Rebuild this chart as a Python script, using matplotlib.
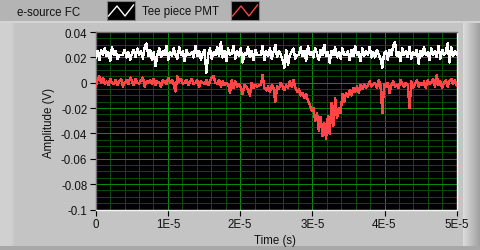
import numpy as np
import matplotlib
matplotlib.use("Agg")
import matplotlib.pyplot as plt
from matplotlib.ticker import MultipleLocator, AutoMinorLocator, FuncFormatter

plt.rcParams["font.family"] = ["Liberation Sans", "DejaVu Sans"]

# sample spacing of the scope trace (s)
DT = 2.5e-7

# e-source FC trace, mV
fc_mv = [
    20, 25, 18, 26, 22, 27, 21, 24, 17, 28,
    22, 25, 19, 22, 22, 22, 26, 20, 24, 18,
    23, 26, 20, 27, 22, 25, 19, 28, 31, 21,
    26, 18, 24, 13, 22, 27, 20, 25, 22, 29,
    18, 24, 21, 27, 22, 19, 28, 22, 25, 17,
    26, 22, 22, 24, 20, 29, 21, 25, 18, 23,
    26, 8, 22, 27, 19, 24, 22, 28, 21, 32,
    20, 25, 17, 27, 22, 23, 29, 19, 25, 21,
    27, 16, 23, 22, 28, 20, 25, 18, 26, 22,
    22, 22, 29, 18, 25, 21, 27, 19, 24, 30,
    20, 25, 22, 18, 12, 26, 14, 22, 24, 27,
    19, 22, 22, 28, 21, 25, 17, 29, 22, 24,
    20, 27, 23, 18, 26, 22, 30, 21, 24, 16,
    25, 22, 28, 20, 24, 19, 27, 22, 22, 25,
    18, 26, 21, 29, 22, 24, 17, 27, 21, 25,
    22, 28, 20, 24, 20, 26, 22, 19, 12, 23,
    25, 18, 26, 22, 29, 32, 21, 24, 17, 27,
    22, 25, 20, 28, 19, 24, 22, 26, 15, 25,
    21, 28, 22, 24, 18, 27, 22, 25, 20, 29,
    19, 26, 22, 24, 31, 16, 28, 21, 25, 22,
]

# Tee piece PMT trace, mV
pmt_mv = [
    -3, 2, 5, 0, 4, -1, 1, -2, 3, 0,
    -1, 2, -2, 1, 3, -3, 0, 2, -1, 4,
    1, -2, 3, 0, -1, 2, 4, -3, 1, 0,
    2, -1, 3, -2, 1, 0, -3, 2, 1, -1,
    4, 0, 2, -1, -7, 5, 1, 3, -1, 0,
    2, -2, 1, 3, -1, 0, 2, -3, 1, 0,
    -1, 2, -2, 1, 4, 5, 0, -1, 2, -3,
    1, -2, 0, -1, -8, 2, -4, 1, -3, -1,
    -4, -9, -2, -3, -6, -10, 0, -4, -2, -3,
    -2, -2, 6, -4, -6, -3, -7, -2, -4, -15,
    -3, -5, 0, -3, -6, -2, -4, 1, -3, 2,
    -4, -7, -5, -10, -8, -12, -9, -14, -17, -22,
    -20, -30, -24, -38, -27, -42, -32, -44, -26, -40,
    -16, -34, -12, -28, -20, -24, -9, -15, -8, -11,
    -6, -10, -4, -7, -3, -8, -2, -5, -1, -4,
    -2, 1, -3, -1, 0, -4, 2, -2, -24, -1,
    -3, 0, -8, -2, 1, -3, -2, -4, 2, -1,
    -3, 0, -2, -20, 1, -4, -1, 2, -3, 0,
    -2, 1, -4, 2, -1, 0, 3, -3, 6, -2,
    1, -4, 0, 2, -3, 1, 3, -1, 2, -2,
]

series_names = ["e-source FC", "Tee piece PMT"]
series_colors = ["#ffffff", "#ff4545"]

W, H = 481, 251
fig = plt.figure(figsize=(W / 100, H / 100), dpi=100, facecolor="#c4c4c4")

# panel decoration in pixel coordinates
bg = fig.add_axes([0, 0, 1, 1], zorder=-5)
bg.set_xlim(0, W)
bg.set_ylim(H, 0)
bg.axis("off")
bg.add_patch(plt.Rectangle((0, 0), W, 22, color="#b4b4b4", lw=0))
bg.add_patch(plt.Rectangle((0, 22), W, 2, color="#d4d4d4", lw=0))
bg.add_patch(plt.Rectangle((0, 24), 12, H - 24, color="#d0d0d0", lw=0))
bg.add_patch(plt.Rectangle((12, 24), 2, H - 24, color="#cacaca", lw=0))
bg.add_patch(plt.Rectangle((0, H - 4), W, 4, color="#a8a8a8", lw=0))
grad = np.linspace(0.86, 0.62, 18)[None, :]
bg.imshow(grad, extent=(463, 481, H - 4, 24), cmap="gray", vmin=0, vmax=1, aspect="auto")
bg.imshow(np.linspace(0.80, 0.60, 14)[None, :], extent=(259, 273, 21, 0),
          cmap="gray", vmin=0, vmax=1, aspect="auto")

# legend entries
leg_text_x = [17, 142]
leg_box_x = [107, 231]
zig_x = np.array([1.5, 10, 18, 26.5])
zig_y = np.array([17, 7, 17, 6])
for name, color, tx, bx in zip(series_names, series_colors, leg_text_x, leg_box_x):
    bg.text(tx, 12.5, name, fontsize=8.3, va="center", ha="left", color="#111111")
    bg.add_patch(plt.Rectangle((bx, 2), 28, 19, facecolor="black", edgecolor="#808080", lw=0.8))
    bg.plot(bx + zig_x, zig_y, color=color, lw=1.0)
bg.set_xlim(0, W)
bg.set_ylim(H, 0)

# plot area
left, right, top, bottom = 95.7, 456.7, 33.0, 210.5
ax = fig.add_axes([left / W, (H - bottom) / H, (right - left) / W, (bottom - top) / H])
ax.set_facecolor("black")

t_fc = np.arange(len(fc_mv)) * DT
t_pmt = np.arange(len(pmt_mv)) * DT
t_fc = t_fc * (5e-5 / t_fc[-1])
t_pmt = t_pmt * (5e-5 / t_pmt[-1])
ax.plot(t_fc, np.array(fc_mv) / 1000.0, color=series_colors[0], lw=1.0, antialiased=False, zorder=3)
ax.plot(t_pmt, np.array(pmt_mv) / 1000.0, color=series_colors[1], lw=1.0, antialiased=False, zorder=3)

ax.set_xlim(0, 5e-5)
ax.set_ylim(-0.1, 0.04)
ax.xaxis.set_major_locator(MultipleLocator(1e-5))
ax.xaxis.set_minor_locator(AutoMinorLocator(5))
ax.yaxis.set_major_locator(MultipleLocator(0.02))
ax.yaxis.set_minor_locator(AutoMinorLocator(4))


def fmt_x(v, pos):
    n = int(round(v / 1e-5))
    return "0" if n == 0 else f"{n}E-5"


def fmt_y(v, pos):
    v = round(v, 4)
    return "0" if v == 0 else f"{v:g}"


ax.xaxis.set_major_formatter(FuncFormatter(fmt_x))
ax.yaxis.set_major_formatter(FuncFormatter(fmt_y))
ax.grid(which="major", color="#0a8a0a", lw=0.72, zorder=1)
ax.grid(which="minor", color="#0a4a0a", lw=0.72, zorder=0)
ax.set_axisbelow(True)
ax.tick_params(which="major", direction="out", length=4, width=0.8, color="black",
               labelsize=8.3, labelcolor="#111111", pad=2)
ax.tick_params(which="minor", length=0)

ax.spines["top"].set_color("#707070")
ax.spines["left"].set_color("#707070")
ax.spines["bottom"].set_color("#f4f4f4")
ax.spines["right"].set_color("#f4f4f4")
for s in ax.spines.values():
    s.set_linewidth(1.0)

fig.text(275 / W, 1 - 241.5 / H, "Time (s)", fontsize=8.3, ha="center", va="center", color="#111111")
fig.text(49 / W, 1 - 122.5 / H, "Amplitude (V)", fontsize=8.3, ha="center", va="center",
         rotation=90, color="#111111")

fig.savefig("out.png", dpi=100, facecolor=fig.get_facecolor())
